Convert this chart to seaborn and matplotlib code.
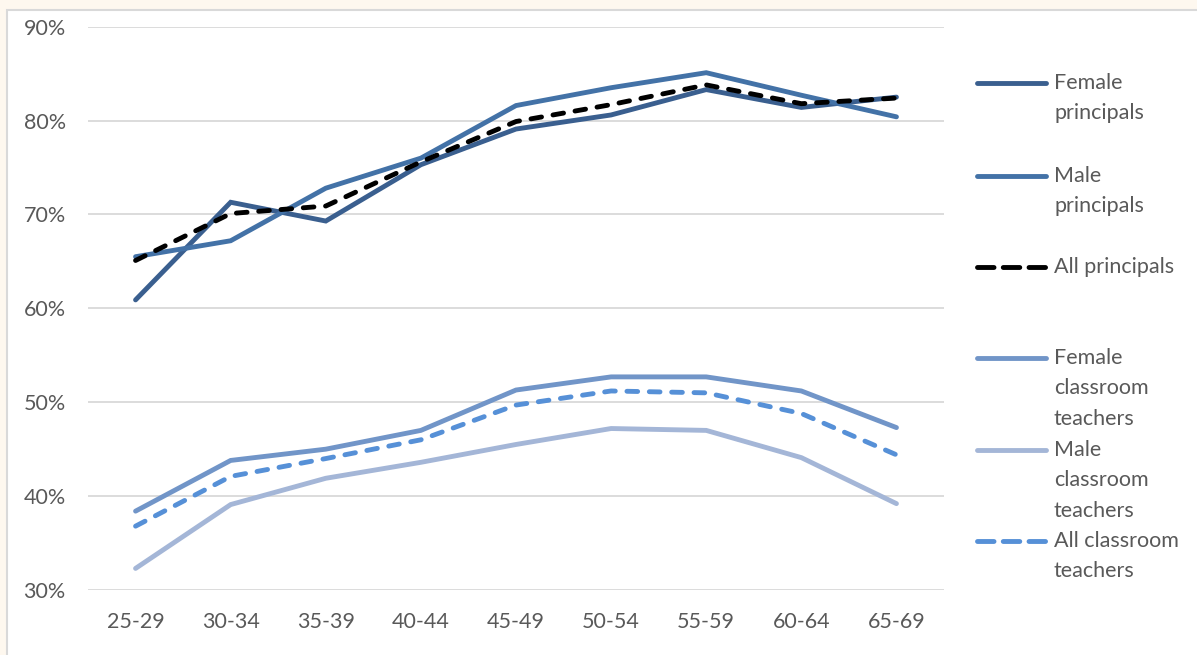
import matplotlib
matplotlib.use("Agg")
import matplotlib.pyplot as plt
from matplotlib.lines import Line2D
from matplotlib.patches import Rectangle
from matplotlib.ticker import PercentFormatter, MultipleLocator
import seaborn as sns
import pandas as pd

# Age bands
age_groups = ["25-29", "30-34", "35-39", "40-44", "45-49",
              "50-54", "55-59", "60-64", "65-69"]

# Percentages by age band
female_principals = [60.9, 71.3, 69.3, 75.3, 79.1, 80.6, 83.3, 81.4, 82.5]
male_principals = [65.5, 67.2, 72.8, 76.0, 81.6, 83.5, 85.1, 82.7, 80.4]
all_principals = [65.1, 70.1, 70.9, 75.6, 79.9, 81.7, 83.8, 81.8, 82.4]
female_teachers = [38.4, 43.8, 45.0, 47.0, 51.3, 52.7, 52.7, 51.2, 47.3]
male_teachers = [32.3, 39.1, 41.9, 43.6, 45.5, 47.2, 47.0, 44.1, 39.2]
all_teachers = [36.8, 42.1, 44.0, 46.0, 49.7, 51.2, 51.0, 48.8, 44.4]

series_names = ["Female\nprincipals", "Male\nprincipals", "All principals",
                "Female\nclassroom\nteachers", "Male\nclassroom\nteachers",
                "All classroom\nteachers"]
series_values = [female_principals, male_principals, all_principals,
                 female_teachers, male_teachers, all_teachers]

# Line styles for each series
dash = (0, (2.2, 2.4))
legend_dash = (0, (3.4, 1.9))
styles = [
    dict(color="#3A5F8F", dashed=False),
    dict(color="#4372A7", dashed=False),
    dict(color="#000000", dashed=True),
    dict(color="#7195C8", dashed=False),
    dict(color="#A4B6D7", dashed=False),
    dict(color="#5690D7", dashed=True),
]

sns.set_theme(style="white")
plt.rcParams["font.family"] = ["Lato", "DejaVu Sans"]

W, H = 1197, 655
fig = plt.figure(figsize=(W / 100, H / 100), dpi=100)
fig.patch.set_facecolor("#FEF8EF")

# White chart panel with a thin grey frame
panel = Rectangle((7 / W, -0.1), 1.2, (H - 10) / H + 0.1,
                  transform=fig.transFigure, facecolor="white",
                  edgecolor="#D9D9D9", linewidth=1.5, zorder=-10)
fig.add_artist(panel)

ax = fig.add_axes([88 / W, 1 - 590 / H, (944 - 88) / W, (590 - 26.7) / H])
ax.set_facecolor("none")
ax.set_zorder(5)

lw = 3.5
for name, vals, st in zip(series_names, series_values, styles):
    df = pd.DataFrame({"age": age_groups, "pct": vals})
    sns.lineplot(data=df, x="age", y="pct", ax=ax, color=st["color"],
                 linestyle=dash if st["dashed"] else "-", linewidth=lw,
                 legend=False, sort=False, dash_capstyle="round",
                 solid_capstyle="round", solid_joinstyle="miter")

ax.set_xlim(-0.5, len(age_groups) - 0.5)
ax.set_ylim(30, 90)
ax.yaxis.set_major_locator(MultipleLocator(10))
ax.yaxis.set_major_formatter(PercentFormatter(decimals=0))
ax.grid(axis="y", color="#D9D9D9", linewidth=1.3)
ax.set_axisbelow(True)
for s in ax.spines.values():
    s.set_visible(False)
ax.set_xlabel("")
ax.set_ylabel("")
ax.tick_params(axis="both", length=0, labelsize=15.5, labelcolor="#595959")
ax.tick_params(axis="y", pad=16)
ax.tick_params(axis="x", pad=16)

# Legend drawn beside the plot, handle aligned with the first text line
legend_rows = [83, 176, 267, 358, 450, 541]
x0, x1, xt = 977 / W, 1046 / W, 1054 / W
for name, st, yp in zip(series_names, styles, legend_rows):
    yf = 1 - yp / H
    fig.add_artist(Line2D([x0, x1], [yf, yf], transform=fig.transFigure,
                          color=st["color"],
                          linestyle=legend_dash if st["dashed"] else "-",
                          linewidth=lw, dash_capstyle="round",
                          solid_capstyle="round"))
    fig.text(xt, yf + 10 / H, name, fontsize=15.5, color="#595959",
             va="top", ha="left", linespacing=1.65)

fig.savefig("out.png", dpi=100, facecolor=fig.get_facecolor())
